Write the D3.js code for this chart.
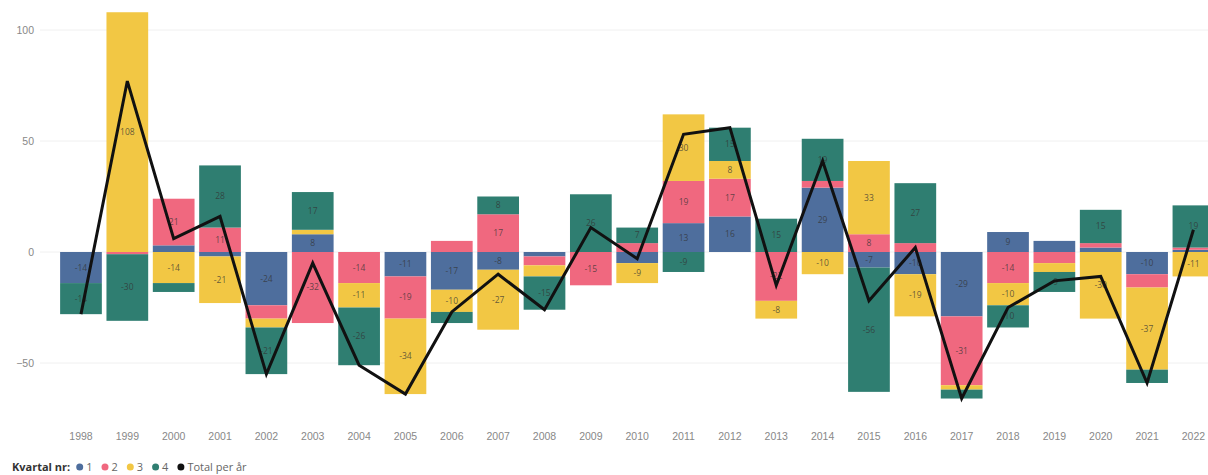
<!DOCTYPE html>
<html>
<head>
<meta charset="utf-8">
<script src="https://cdn.jsdelivr.net/npm/d3@7"></script>
<style>
  html, body { margin: 0; padding: 0; background: #fff; }
  svg { display: block; font-family: "Segoe UI", "Open Sans", "DejaVu Sans", sans-serif; }
</style>
</head>
<body>
<svg id="chart" width="1208" height="475"></svg>
<script>
const years = ["1998","1999","2000","2001","2002","2003","2004","2005","2006","2007","2008","2009","2010","2011","2012","2013","2014","2015","2016","2017","2018","2019","2020","2021","2022"];
const q1 = [-14, 0, 3, -2, -24, 8, 0, -11, -17, -8, -2, 0, -5, 13, 16, 0, 29, -7, -10, -29, 9, 5, 2, -10, 1];
const q2 = [0, -1, 21, 11, -6, -32, -14, -19, 5, 17, -4, -15, 4, 19, 17, -22, 3, 8, 4, -31, -14, -5, 2, -6, 1];
const q3 = [0, 108, -14, -21, -4, 2, -11, -34, -10, -27, -5, 0, -9, 30, 8, -8, -10, 33, -19, -2, -10, -4, -30, -37, -11];
const q4 = [-14, -30, -4, 28, -21, 17, -26, 0, -5, 8, -15, 26, 7, -9, 15, 15, 19, -56, 27, -4, -10, -9, 15, -6, 19];
const seriesNames = ["1", "2", "3", "4"];
const seriesColors = ["#4E6E9D", "#F0687F", "#F2C744", "#2F7E71"];
const yTicks = [-50, 0, 50, 100];
const legendTitle = "Kvartal nr:";
const totalLabel = "Total per år";

const series = [q1, q2, q3, q4];
const totals = years.map((y, i) => series.reduce((s, arr) => s + arr[i], 0));

const svg = d3.select("#chart");
const x = d3.scaleBand().domain(years).range([57.8, 1216.6]).paddingInner(0.1).paddingOuter(0.05);
const y = d3.scaleLinear().domain([-70, 110]).range([407.4, 7.8]);

// gridlines
svg.append("g").selectAll("line").data(yTicks).join("line")
  .attr("x1", 40).attr("x2", 1208)
  .attr("y1", d => y(d)).attr("y2", d => y(d))
  .attr("stroke", "#f0f0f0").attr("stroke-width", 1);

// y axis
const yAxis = d3.axisLeft(y).tickValues(yTicks).tickSize(0).tickPadding(0);
const yg = svg.append("g").attr("transform", "translate(34,0)").call(yAxis);
yg.select(".domain").remove();
yg.selectAll("text").attr("fill", "#888").attr("font-size", 10.5);

// x axis
const xAxis = d3.axisBottom(x).tickSize(0).tickPadding(0);
const xg = svg.append("g").attr("transform", "translate(0,433)").call(xAxis);
xg.select(".domain").remove();
xg.selectAll("text").attr("fill", "#888").attr("font-size", 10.5);

// stacked segments (positive and negative separately)
const segs = [];
years.forEach((yr, i) => {
  let pos = 0, neg = 0;
  series.forEach((arr, s) => {
    const v = arr[i];
    if (v === 0) return;
    let y0, y1;
    if (v > 0) { y0 = pos; y1 = pos + v; pos = y1; }
    else { y0 = neg; y1 = neg + v; neg = y1; }
    segs.push({ yr, s, v, y0, y1 });
  });
});

const bars = svg.append("g");
bars.selectAll("rect").data(segs).join("rect")
  .attr("x", d => x(d.yr))
  .attr("width", x.bandwidth())
  .attr("y", d => y(Math.max(d.y0, d.y1)))
  .attr("height", d => Math.abs(y(d.y0) - y(d.y1)))
  .attr("fill", d => seriesColors[d.s]);

bars.selectAll("text").data(segs.filter(d => Math.abs(y(d.y0) - y(d.y1)) >= 14)).join("text")
  .attr("x", d => x(d.yr) + x.bandwidth() / 2)
  .attr("y", d => y((d.y0 + d.y1) / 2))
  .attr("dy", "0.35em")
  .attr("text-anchor", "middle")
  .attr("font-size", 8.5)
  .attr("fill", "#333")
  .attr("fill-opacity", 0.75)
  .text(d => d.v);

// total line
const line = d3.line().x((d, i) => x(years[i]) + x.bandwidth() / 2).y(d => y(d));
svg.append("path").datum(totals)
  .attr("d", line)
  .attr("fill", "none")
  .attr("stroke", "#111")
  .attr("stroke-width", 3)
  .attr("stroke-linejoin", "miter");

// legend
const lg = svg.append("g").attr("transform", "translate(12,467)");
const tt = lg.append("text").attr("x", 0).attr("y", 0).attr("dy", "0.35em")
  .attr("font-size", 11).attr("font-weight", "bold").attr("fill", "#333").text(legendTitle);
const items = seriesNames.map((n, i) => ({ label: n, color: seriesColors[i] }))
  .concat([{ label: totalLabel, color: "#111" }]);
let lx = tt.node().getComputedTextLength() + 6;
items.forEach(it => {
  lg.append("circle").attr("cx", lx + 3.5).attr("cy", 0).attr("r", 3.5).attr("fill", it.color);
  const t = lg.append("text").attr("x", lx + 10).attr("y", 0).attr("dy", "0.35em")
    .attr("font-size", 11).attr("fill", "#666").text(it.label);
  lx += 10 + t.node().getComputedTextLength() + 9;
});
</script>
</body>
</html>
